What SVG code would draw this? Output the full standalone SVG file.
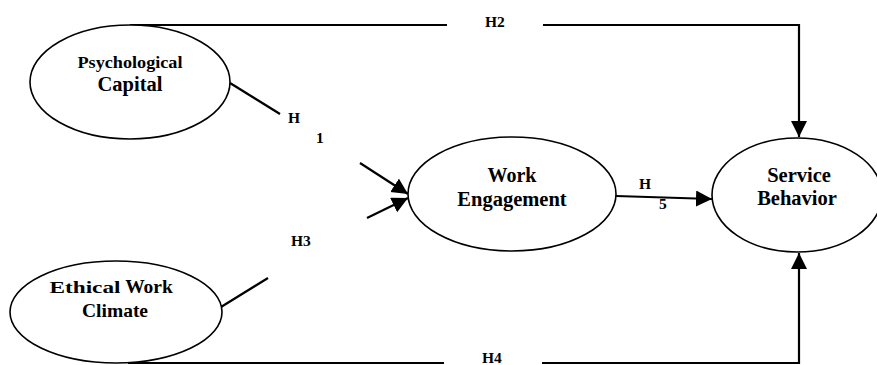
<svg xmlns="http://www.w3.org/2000/svg" width="877" height="365" viewBox="0 0 877 365">
  <style>
    .node ellipse { fill: #fff; stroke: #000; stroke-width: 1.6; }
    .lbl { font-family: "Liberation Serif", "Times New Roman", serif; font-weight: bold; fill: #000; text-anchor: middle; }
    .hyp { font-family: "Liberation Serif", "Times New Roman", serif; font-weight: bold; fill: #000; font-size: 15.5px; }
    .conn { fill: none; stroke: #000; stroke-width: 2.2; }
  </style>
  <defs>
    <marker id="arrow" markerUnits="userSpaceOnUse" markerWidth="18" markerHeight="18" refX="16" refY="8" orient="auto">
      <path d="M0,0 L16,8 L0,16 Z" fill="#000"/>
    </marker>
  </defs>
  <rect width="877" height="365" fill="#fff"/>

  <g id="connectors">
    <!-- H2: Psychological Capital -> Service Behavior (top route) -->
    <line class="conn" x1="130" y1="25" x2="447" y2="25"/>
    <polyline class="conn" points="543,25 799,25 799,137" marker-end="url(#arrow)"/>
    <!-- H4: Ethical Work Climate -> Service Behavior (bottom route) -->
    <line class="conn" x1="128" y1="363" x2="444" y2="363"/>
    <polyline class="conn" points="542,363 799,363 799,253" marker-end="url(#arrow)"/>
    <!-- H1 -->
    <line class="conn" x1="230" y1="83" x2="280" y2="114"/>
    <line class="conn" x1="360" y1="163" x2="408" y2="194" marker-end="url(#arrow)"/>
    <!-- H3 -->
    <line class="conn" x1="221" y1="307" x2="268" y2="278"/>
    <line class="conn" x1="367" y1="218" x2="408" y2="198" marker-end="url(#arrow)"/>
    <!-- H5 -->
    <line class="conn" x1="616" y1="196" x2="712" y2="199" marker-end="url(#arrow)"/>

    <text class="hyp" x="485" y="27">H2</text>
    <text class="hyp" x="482" y="363">H4</text>
    <text class="hyp" x="288" y="123">H</text>
    <text class="hyp" x="316" y="143">1</text>
    <text class="hyp" x="291" y="246">H3</text>
    <text class="hyp" x="639" y="189">H</text>
    <text class="hyp" x="659" y="209">5</text>
  </g>

  <g id="psychological-capital" class="node">
    <ellipse cx="130" cy="82" rx="100" ry="57"/>
    <text class="lbl" x="130" y="68" font-size="17" textLength="105" lengthAdjust="spacingAndGlyphs">Psychological</text>
    <text class="lbl" x="130" y="91" font-size="20.5">Capital</text>
  </g>

  <g id="ethical-work-climate" class="node">
    <ellipse cx="116" cy="312" rx="106" ry="51"/>
    <text class="lbl" y="293" font-size="16"><tspan x="85" textLength="71" lengthAdjust="spacingAndGlyphs">Ethical</tspan><tspan x="149" font-size="19.5">Work</tspan></text>
    <text class="lbl" x="115" y="317" font-size="19.5">Climate</text>
  </g>

  <g id="work-engagement" class="node">
    <ellipse cx="512" cy="194" rx="104" ry="57"/>
    <text class="lbl" x="512" y="182" font-size="20">Work</text>
    <text class="lbl" x="512" y="206" font-size="20.5">Engagement</text>
  </g>

  <g id="service-behavior" class="node">
    <ellipse cx="797" cy="195" rx="85" ry="57"/>
    <text class="lbl" x="799" y="182" font-size="20.5">Service</text>
    <text class="lbl" x="797" y="205" font-size="20.5">Behavior</text>
  </g>
</svg>
